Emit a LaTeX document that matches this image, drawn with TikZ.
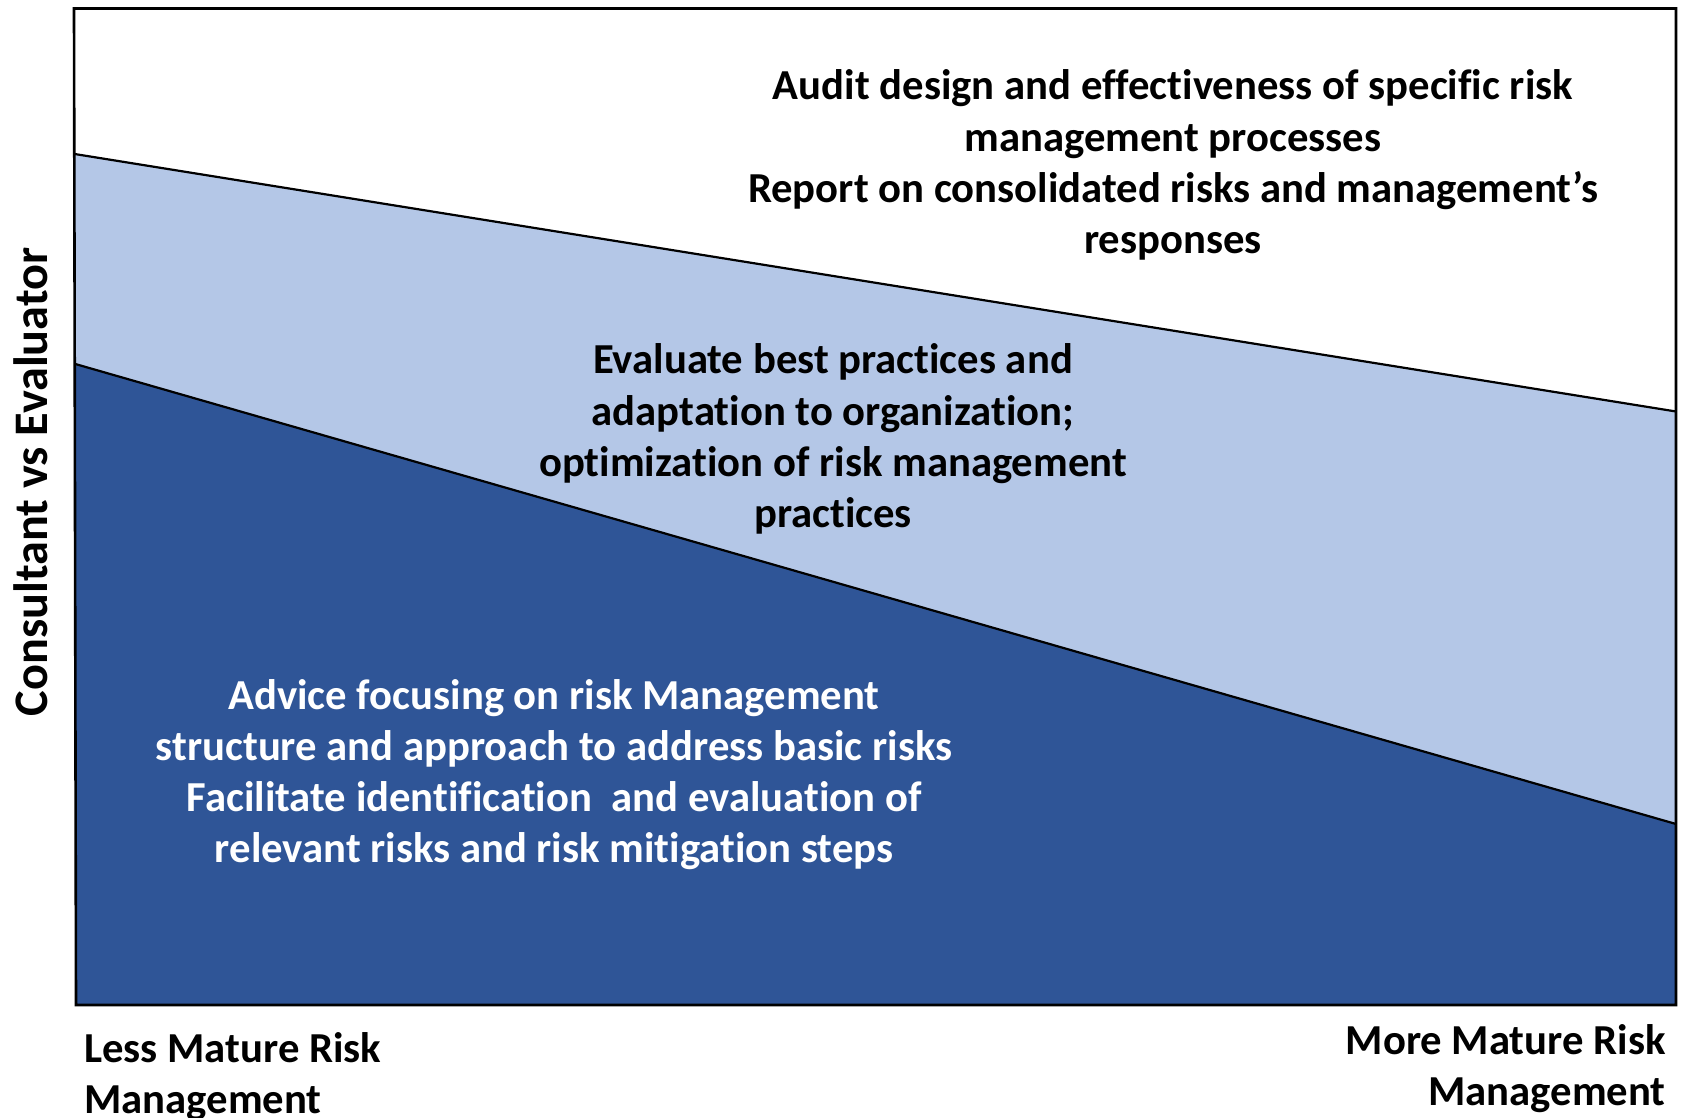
\documentclass[tikz,border=0pt]{standalone}
\usepackage{fontspec}
\setmainfont[Ligatures=NoCommon]{Carlito}
\definecolor{lightband}{HTML}{B4C7E7}
\definecolor{darkband}{HTML}{2F5597}
\begin{document}
\begin{tikzpicture}[x=0.5pt,y=-0.5pt,
  bandtext/.style={font=\bfseries\fontsize{21.35}{25.6}\selectfont, align=center, inner sep=0pt},
  axistext/.style={font=\bfseries\fontsize{21.35}{25.6}\selectfont, inner sep=0pt},
  frame/.style={line width=1.3pt, line join=miter}]
\useasboundingbox (0,0) rectangle (1683,1118);
% corners of the frame and ends of the two dividing lines
\coordinate (tl) at (74,8.5);
\coordinate (tr) at (1676,8.5);
\coordinate (br) at (1676,1005);
\coordinate (bl) at (76,1005);
\coordinate (l1) at (74.6,154);
\coordinate (r1) at (1676,411.5);
\coordinate (l2) at (75.3,364);
\coordinate (r2) at (1676,824);
% bands
\fill[white] (tl) -- (tr) -- (r1) -- (l1) -- cycle;
\fill[lightband] (l1) -- (r1) -- (r2) -- (l2) -- cycle;
\fill[darkband] (l2) -- (r2) -- (br) -- (bl) -- cycle;
\draw[line width=1.1pt] (l1) -- (r1);
\draw[line width=1.1pt] (l2) -- (r2);
\draw[frame] (tl) -- (tr) -- (br) -- (bl) -- cycle;
% band descriptions
\node[bandtext] (evaluator) at (1173,165) {Audit design and effectiveness of specific risk\\management processes\\Report on consolidated risks and management’s\\responses};
\node[bandtext] (middle) at (833,439) {Evaluate best practices and\\adaptation to organization;\\optimization of risk management\\practices};
\node[bandtext, text=white] (consultant) at (554,774.5) {Advice focusing on risk Management\\structure and approach to address basic risks\\Facilitate identification\ \ and evaluation of\\relevant risks and risk mitigation steps};
% axis labels
\node[axistext, align=left, anchor=west] (less) at (84,1077) {Less Mature Risk\\Management};
\node[axistext, align=right, anchor=east] (more) at (1666,1068.5) {More Mature Risk\\Management};
\node[axistext, font=\bfseries\fontsize{24.1}{28}\selectfont, rotate=90] (yaxis) at (31,482) {Consultant vs Evaluator};
\end{tikzpicture}
\end{document}
